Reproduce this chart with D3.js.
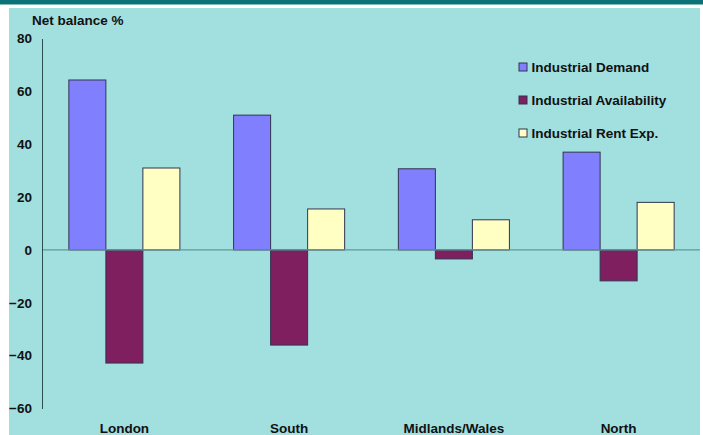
<!DOCTYPE html>
<html><head><meta charset="utf-8">
<script src="https://cdn.jsdelivr.net/npm/d3@7"></script>
<style>
html,body{margin:0;padding:0;background:#fff;}
svg{display:block;font-family:"Liberation Sans",Arial,sans-serif;}
</style></head>
<body>
<svg id="chart" width="703" height="435"></svg>
<script>
const categories = ["London", "South", "Midlands/Wales", "North"];
const seriesNames = ["Industrial Demand", "Industrial Availability", "Industrial Rent Exp."];
const demand = [64.3, 51, 30.7, 37];
const availability = [-42.8, -36, -3.4, -11.7];
const rentExp = [31, 15.5, 11.4, 18];
const yTicks = [80, 60, 40, 20, 0, -20, -40, -60];
const colors = ["#8080FF", "#7F1F5F", "#FFFFC4"];

const series = [demand, availability, rentExp];
const svg = d3.select("#chart");
const FS = 13.5;

// background
svg.append("rect").attr("x", 9).attr("y", 8).attr("width", 691).attr("height", 427).attr("fill", "#A2DFDF");
svg.append("rect").attr("x", 0).attr("y", 0).attr("width", 703).attr("height", 4.5).attr("fill", "#0A7377");

const left = 42, right = 701;
const y = d3.scaleLinear().domain([-60, 80]).range([408.5, 38.5]);
const x0 = d3.scaleBand().domain(categories).range([left, right]).paddingInner(0.326).paddingOuter(0.163);
const x1 = d3.scaleBand().domain(d3.range(3)).range([0, x0.bandwidth()]);

// bars
const g = svg.append("g");
categories.forEach((c, i) => {
  series.forEach((s, j) => {
    const v = s[i];
    g.append("rect")
      .attr("x", x0(c) + x1(j))
      .attr("y", y(Math.max(0, v)))
      .attr("width", x1.bandwidth())
      .attr("height", Math.abs(y(v) - y(0)))
      .attr("fill", colors[j])
      .attr("stroke", "#33334f")
      .attr("stroke-width", 1);
  });
});

// zero line
svg.append("line").attr("x1", left).attr("x2", 700).attr("y1", y(0)).attr("y2", y(0))
  .attr("stroke", "#5E9A9E").attr("stroke-width", 1.2);

// y axis
const yAxis = d3.axisLeft(y).tickValues(yTicks).tickSize(0).tickPadding(10).tickFormat(d3.format("d"));
const ya = svg.append("g").attr("transform", `translate(${left},0)`).call(yAxis);
ya.select(".domain").attr("stroke", "#2f4f4f").attr("stroke-width", 1);
ya.selectAll("text").attr("font-size", FS).attr("font-weight", "bold").attr("fill", "#111")
  .attr("font-family", "Liberation Sans, Arial, sans-serif");

// x labels
const xAxis = d3.axisBottom(x0).tickSize(0).tickPadding(0);
const xa = svg.append("g").attr("transform", `translate(0,${y(0)})`).call(xAxis);
xa.select(".domain").remove();
xa.selectAll("text").attr("y", 0).attr("dy", null)
  .attr("transform", `translate(0,${432.5 - y(0)})`)
  .attr("font-size", FS).attr("font-weight", "bold").attr("fill", "#111")
  .attr("font-family", "Liberation Sans, Arial, sans-serif");

// title
svg.append("text").attr("x", 32).attr("y", 24.5).text("Net balance %")
  .attr("font-size", FS).attr("font-weight", "bold").attr("fill", "#111");

// legend
const lg = svg.append("g");
seriesNames.forEach((n, j) => {
  const cy = 67 + j * 33;
  lg.append("rect").attr("x", 519).attr("y", cy - 4).attr("width", 8).attr("height", 8)
    .attr("fill", colors[j]).attr("stroke", "#33334f").attr("stroke-width", 1);
  lg.append("text").attr("x", 531.5).attr("y", cy + 5).text(n)
    .attr("font-size", FS).attr("font-weight", "bold").attr("fill", "#111");
});
</script>
</body></html>
